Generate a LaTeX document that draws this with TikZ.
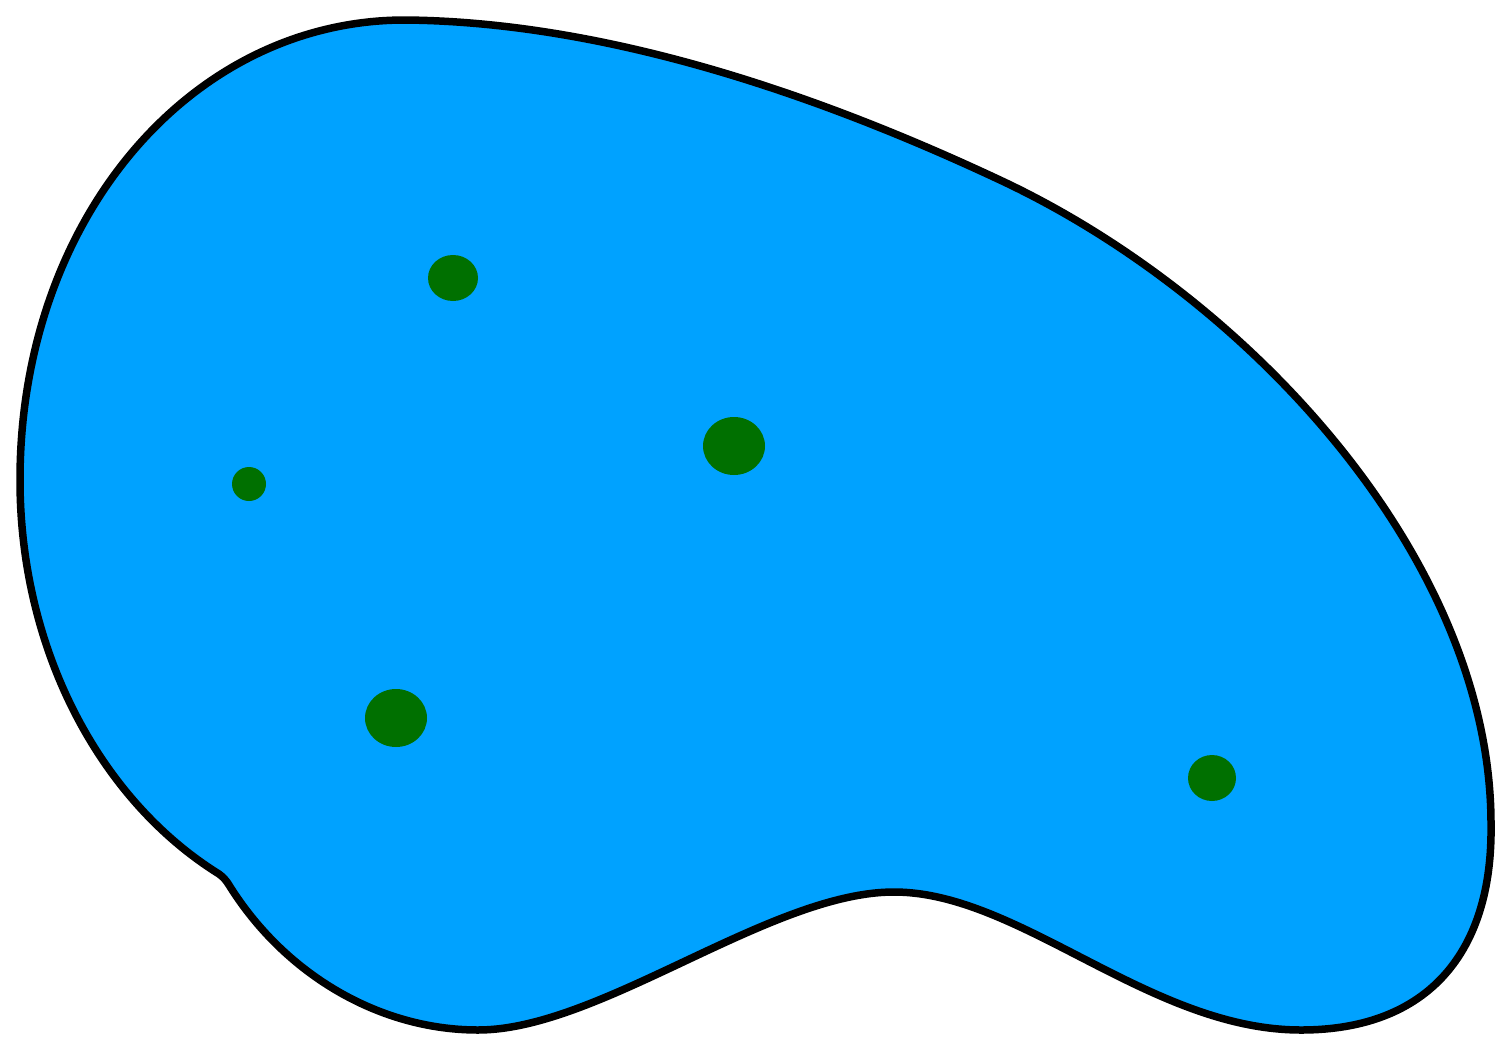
\documentclass[tikz,border=0pt]{standalone}
\definecolor{blobblue}{HTML}{00A2FF}
\definecolor{dotgreen}{HTML}{007000}
\begin{document}
\begin{tikzpicture}[x=1pt,y=-1pt,
  blob/.style={draw=black,line width=7.5pt,fill=blobblue,line join=round},
  dot/.style={fill=dotgreen}]
\useasboundingbox (0,0) rectangle (1497,1047);
\draw[blob] (405,20) .. controls (620,22) and (840,105) .. (1000,180)
  .. controls (1250,297) and (1491,560) .. (1491,824)
  .. controls (1493,950) and (1430,1030) .. (1301,1030)
  .. controls (1150,1030) and (1020,892) .. (894,892)
  .. controls (770,892) and (600,1030) .. (478,1030)
  .. controls (380,1030) and (285,975) .. (229,885)
  .. controls (226,880) and (223,877) .. (219,874)
  .. controls (100,800) and (20,650) .. (20,480)
  .. controls (20,220) and (190,20) .. (405,20) -- cycle;
\fill[dot] (453,278) ellipse [x radius=25,y radius=23];
\fill[dot] (734,446) ellipse [x radius=31,y radius=29];
\fill[dot] (249,484) ellipse [x radius=17,y radius=17];
\fill[dot] (396,718) ellipse [x radius=31,y radius=29];
\fill[dot] (1212,778) ellipse [x radius=24,y radius=23];
\end{tikzpicture}
\end{document}
